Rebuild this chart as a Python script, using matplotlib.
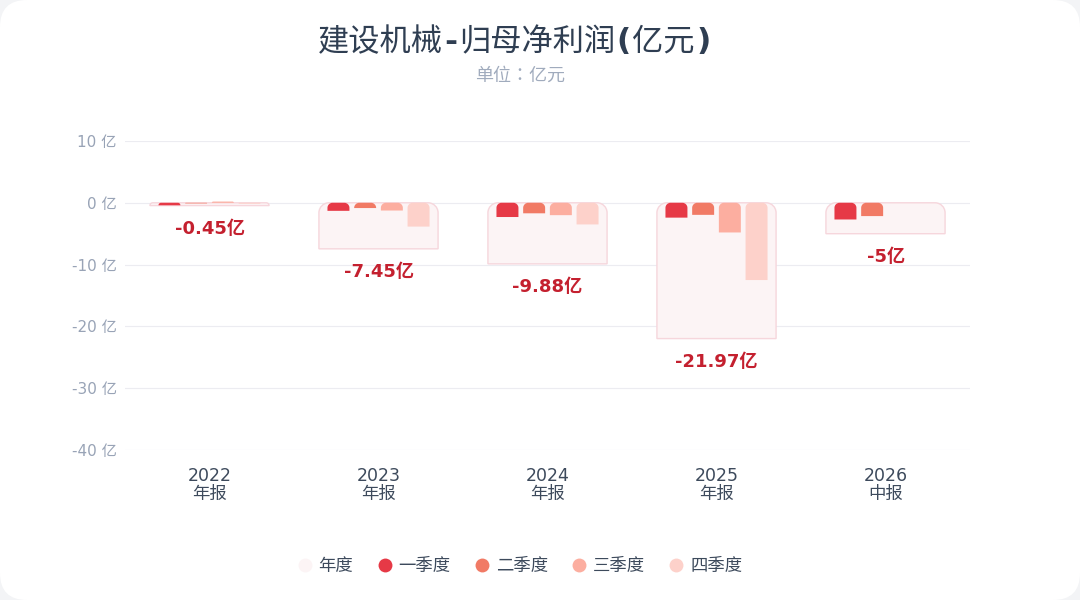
import numpy as np
import matplotlib.pyplot as plt
from matplotlib.path import Path
from matplotlib.patches import PathPatch, FancyBboxPatch
from matplotlib.lines import Line2D

plt.rcParams['font.family'] = ['DejaVu Sans', 'Noto Sans CJK SC']

# title pieces: CJK parts regular, ASCII punctuation bold
title_parts = ['建设机械', '-', '归母净利润', '(', '亿元', ')']
subtitle = '单位：亿元'
categories = ['2022\n年报', '2023\n年报', '2024\n年报', '2025\n年报', '2026\n中报']
annual = [-0.45, -7.45, -9.88, -21.97, -5.0]
annual_labels = ['-0.45亿', '-7.45亿', '-9.88亿', '-21.97亿', '-5亿']
q1 = [-0.40, -1.30, -2.30, -2.40, -2.70]
q2 = [-0.10, -0.85, -1.70, -1.95, -2.15]
q3 = [0.20, -1.25, -2.00, -4.80, np.nan]
q4 = [-0.15, -3.85, -3.50, -12.50, np.nan]
quarters = [q1, q2, q3, q4]
quarter_names = ['一季度', '二季度', '三季度', '四季度']
y_ticks = [10, 0, -10, -20, -30, -40]

c_annual = '#fcf4f5'
c_annual_edge = '#f6d6dc'
q_colors = ['#e63946', '#f17a65', '#fcaea0', '#fdd1ca']

fig = plt.figure(figsize=(10.8, 6), dpi=100, facecolor='#f3f4f6')
card = FancyBboxPatch((0, 0), 1, 1, boxstyle='round,pad=0,rounding_size=0.025',
                      transform=fig.transFigure, facecolor='white', edgecolor='none',
                      mutation_aspect=1.8, zorder=-10)
fig.patches.append(card)

ax = fig.add_axes([125 / 1080, 1 - 450 / 600, 845 / 1080, 309 / 600])
ax.set_facecolor('none')
ax.set_xlim(-0.5, len(categories) - 0.5)
ax.set_ylim(-40, 10)


def rounded_bar(x0, x1, y0, y1, r_px, face, edge=None, lw=0.0, z=2):
    # build bar in pixel space so the corner radius is in pixels
    p0 = ax.transData.transform((x0, min(y0, y1)))
    p1 = ax.transData.transform((x1, max(y0, y1)))
    left, bottom = p0
    right, top = p1
    r = min(r_px, (right - left) / 2, max(top - bottom, 0.0))
    k = 0.5523
    verts = [(left, bottom), (right, bottom), (right, top - r),
             (right, top - r + k * r), (right - r + k * r, top), (right - r, top),
             (left + r, top),
             (left + r - k * r, top), (left, top - r + k * r), (left, top - r),
             (left, bottom), (left, bottom)]
    codes = [Path.MOVETO, Path.LINETO, Path.LINETO,
             Path.CURVE4, Path.CURVE4, Path.CURVE4,
             Path.LINETO,
             Path.CURVE4, Path.CURVE4, Path.CURVE4,
             Path.LINETO, Path.CLOSEPOLY]
    patch = PathPatch(Path(verts, codes), transform=None, facecolor=face,
                      edgecolor=edge if edge else 'none', linewidth=lw, zorder=z)
    ax.add_artist(patch)


for y in y_ticks:
    ax.axhline(y, color='#ececf1', linewidth=0.8, zorder=0)

annual_w = 0.705
q_w = 0.13
q_offsets = [-0.237, -0.079, 0.079, 0.237]

for i, v in enumerate(annual):
    rounded_bar(i - annual_w / 2, i + annual_w / 2, 0, v, 10, c_annual, c_annual_edge, 1.0, 2)
    ax.annotate(annual_labels[i], (i, v), xytext=(0, -17), textcoords='offset points',
                ha='center', va='center', fontsize=13, fontweight='bold', color='#c4202f',
                zorder=5)

for j, qs in enumerate(quarters):
    for i, v in enumerate(qs):
        if np.isnan(v):
            continue
        x = i + q_offsets[j]
        rounded_bar(x - q_w / 2, x + q_w / 2, 0, v, 5, q_colors[j], None, 0, 3)

ax.set_xticks(range(len(categories)))
ax.set_xticklabels(categories, fontsize=12.5, color='#3d4a5c', linespacing=1.0)
ax.set_yticks(y_ticks)
ax.set_yticklabels([f'{t} 亿' for t in y_ticks], fontsize=11, color='#98a3b6')
ax.tick_params(axis='x', length=0, pad=12)
ax.tick_params(axis='y', length=0, pad=6)
for s in ax.spines.values():
    s.set_visible(False)

# title, chained piece by piece (each piece starts where the previous ends)
last = None
for n, part in enumerate(title_parts):
    style = dict(ha='left', va='center', fontsize=22.5, color='#2f3e52',
                 fontweight='bold' if n % 2 else 'normal',
                 family=['DejaVu Sans'] if n % 2 else ['Noto Sans CJK SC'])
    if last is None:
        last = fig.text(318 / 1080, 1 - 42 / 600, part, **style)
    else:
        last = fig.add_artist(plt.Annotation(part, xy=(1, 0.5), xycoords=last,
                                             xytext=(1, 0), textcoords='offset points',
                                             **style))

fig.text(520 / 1080, 1 - 76 / 600, subtitle, ha='center', va='center', fontsize=13,
         color='#a0abbd', family=['Noto Sans CJK TC'])

handles = [Line2D([], [], marker='o', linestyle='none', markersize=10,
                  markerfacecolor=c_annual, markeredgecolor='none')]
for c in q_colors:
    handles.append(Line2D([], [], marker='o', linestyle='none', markersize=10,
                          markerfacecolor=c, markeredgecolor='none'))
leg = fig.legend(handles, ['年度'] + quarter_names, loc='center',
                 bbox_to_anchor=(520 / 1080, 1 - 566 / 600), ncol=5, frameon=False,
                 fontsize=12.5, handletextpad=0.4, columnspacing=1.4, handlelength=0.8)
for t in leg.get_texts():
    t.set_color('#3d4a5c')

fig.savefig('out.png', dpi=100, facecolor=fig.get_facecolor())
